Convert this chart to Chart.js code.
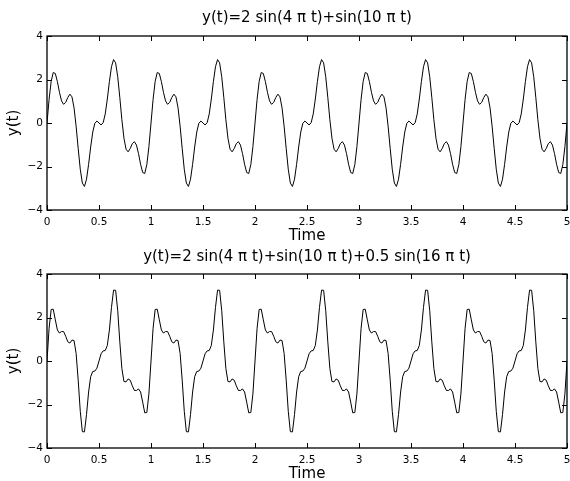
<!DOCTYPE html>
<html><head><meta charset="utf-8">
<script src="https://cdn.jsdelivr.net/npm/chart.js@4.4.1/dist/chart.umd.min.js"></script>
<style>
html,body{margin:0;padding:0;background:#fff;overflow:hidden;width:570px;height:481px;}
canvas{position:absolute;left:0;}
#c1{top:0;}
#c2{top:246px;}
</style></head><body>
<canvas id="c1" width="570" height="247"></canvas>
<canvas id="c2" width="570" height="240"></canvas>
<script>
const time = [
0,0.02,0.04,0.06,0.08,0.1,0.12,0.14,0.16,0.18,0.2,0.22,0.24,0.26,0.28,0.3,0.32,0.34,0.36,0.38,0.4,0.42,0.44,0.46,0.48,
0.5,0.52,0.54,0.56,0.58,0.6,0.62,0.64,0.66,0.68,0.7,0.72,0.74,0.76,0.78,0.8,0.82,0.84,0.86,0.88,0.9,0.92,0.94,0.96,0.98,
1,1.02,1.04,1.06,1.08,1.1,1.12,1.14,1.16,1.18,1.2,1.22,1.24,1.26,1.28,1.3,1.32,1.34,1.36,1.38,1.4,1.42,1.44,1.46,1.48,
1.5,1.52,1.54,1.56,1.58,1.6,1.62,1.64,1.66,1.68,1.7,1.72,1.74,1.76,1.78,1.8,1.82,1.84,1.86,1.88,1.9,1.92,1.94,1.96,1.98,
2,2.02,2.04,2.06,2.08,2.1,2.12,2.14,2.16,2.18,2.2,2.22,2.24,2.26,2.28,2.3,2.32,2.34,2.36,2.38,2.4,2.42,2.44,2.46,2.48,
2.5,2.52,2.54,2.56,2.58,2.6,2.62,2.64,2.66,2.68,2.7,2.72,2.74,2.76,2.78,2.8,2.82,2.84,2.86,2.88,2.9,2.92,2.94,2.96,2.98,
3,3.02,3.04,3.06,3.08,3.1,3.12,3.14,3.16,3.18,3.2,3.22,3.24,3.26,3.28,3.3,3.32,3.34,3.36,3.38,3.4,3.42,3.44,3.46,3.48,
3.5,3.52,3.54,3.56,3.58,3.6,3.62,3.64,3.66,3.68,3.7,3.72,3.74,3.76,3.78,3.8,3.82,3.84,3.86,3.88,3.9,3.92,3.94,3.96,3.98,
4,4.02,4.04,4.06,4.08,4.1,4.12,4.14,4.16,4.18,4.2,4.22,4.24,4.26,4.28,4.3,4.32,4.34,4.36,4.38,4.4,4.42,4.44,4.46,4.48,
4.5,4.52,4.54,4.56,4.58,4.6,4.62,4.64,4.66,4.68,4.7,4.72,4.74,4.76,4.78,4.8,4.82,4.84,4.86,4.88,4.9,4.92,4.94,4.96,4.98,
5];

const ySeries1 = [
0,1.085,1.915,2.32,2.276,1.902,1.408,1.014,0.859,0.953,1.176,1.324,1.202,0.701,-0.148,-1.176,-2.129,-2.761,-2.916,-2.584,-1.902,-1.101,-0.418,-0.013,0.09,
0,-0.09,0.013,0.418,1.101,1.902,2.584,2.916,2.761,2.129,1.176,0.148,-0.701,-1.202,-1.324,-1.176,-0.953,-0.859,-1.014,-1.408,-1.902,-2.276,-2.32,-1.915,-1.085,
0,1.085,1.915,2.32,2.276,1.902,1.408,1.014,0.859,0.953,1.176,1.324,1.202,0.701,-0.148,-1.176,-2.129,-2.761,-2.916,-2.584,-1.902,-1.101,-0.418,-0.013,0.09,
0,-0.09,0.013,0.418,1.101,1.902,2.584,2.916,2.761,2.129,1.176,0.148,-0.701,-1.202,-1.324,-1.176,-0.953,-0.859,-1.014,-1.408,-1.902,-2.276,-2.32,-1.915,-1.085,
0,1.085,1.915,2.32,2.276,1.902,1.408,1.014,0.859,0.953,1.176,1.324,1.202,0.701,-0.148,-1.176,-2.129,-2.761,-2.916,-2.584,-1.902,-1.101,-0.418,-0.013,0.09,
0,-0.09,0.013,0.418,1.101,1.902,2.584,2.916,2.761,2.129,1.176,0.148,-0.701,-1.202,-1.324,-1.176,-0.953,-0.859,-1.014,-1.408,-1.902,-2.276,-2.32,-1.915,-1.085,
0,1.085,1.915,2.32,2.276,1.902,1.408,1.014,0.859,0.953,1.176,1.324,1.202,0.701,-0.148,-1.176,-2.129,-2.761,-2.916,-2.584,-1.902,-1.101,-0.418,-0.013,0.09,
0,-0.09,0.013,0.418,1.101,1.902,2.584,2.916,2.761,2.129,1.176,0.148,-0.701,-1.202,-1.324,-1.176,-0.953,-0.859,-1.014,-1.408,-1.902,-2.276,-2.32,-1.915,-1.085,
0,1.085,1.915,2.32,2.276,1.902,1.408,1.014,0.859,0.953,1.176,1.324,1.202,0.701,-0.148,-1.176,-2.129,-2.761,-2.916,-2.584,-1.902,-1.101,-0.418,-0.013,0.09,
0,-0.09,0.013,0.418,1.101,1.902,2.584,2.916,2.761,2.129,1.176,0.148,-0.701,-1.202,-1.324,-1.176,-0.953,-0.859,-1.014,-1.408,-1.902,-2.276,-2.32,-1.915,-1.085,
0];

const ySeries2 = [
0,1.507,2.367,2.383,1.891,1.426,1.284,1.356,1.35,1.137,0.882,0.825,0.961,0.942,0.351,-0.882,-2.313,-3.252,-3.258,-2.46,-1.426,-0.716,-0.481,-0.465,-0.332,
0,0.332,0.465,0.481,0.716,1.426,2.46,3.258,3.252,2.313,0.882,-0.351,-0.942,-0.961,-0.825,-0.882,-1.137,-1.35,-1.356,-1.284,-1.426,-1.891,-2.383,-2.367,-1.507,
0,1.507,2.367,2.383,1.891,1.426,1.284,1.356,1.35,1.137,0.882,0.825,0.961,0.942,0.351,-0.882,-2.313,-3.252,-3.258,-2.46,-1.426,-0.716,-0.481,-0.465,-0.332,
0,0.332,0.465,0.481,0.716,1.426,2.46,3.258,3.252,2.313,0.882,-0.351,-0.942,-0.961,-0.825,-0.882,-1.137,-1.35,-1.356,-1.284,-1.426,-1.891,-2.383,-2.367,-1.507,
0,1.507,2.367,2.383,1.891,1.426,1.284,1.356,1.35,1.137,0.882,0.825,0.961,0.942,0.351,-0.882,-2.313,-3.252,-3.258,-2.46,-1.426,-0.716,-0.481,-0.465,-0.332,
0,0.332,0.465,0.481,0.716,1.426,2.46,3.258,3.252,2.313,0.882,-0.351,-0.942,-0.961,-0.825,-0.882,-1.137,-1.35,-1.356,-1.284,-1.426,-1.891,-2.383,-2.367,-1.507,
0,1.507,2.367,2.383,1.891,1.426,1.284,1.356,1.35,1.137,0.882,0.825,0.961,0.942,0.351,-0.882,-2.313,-3.252,-3.258,-2.46,-1.426,-0.716,-0.481,-0.465,-0.332,
0,0.332,0.465,0.481,0.716,1.426,2.46,3.258,3.252,2.313,0.882,-0.351,-0.942,-0.961,-0.825,-0.882,-1.137,-1.35,-1.356,-1.284,-1.426,-1.891,-2.383,-2.367,-1.507,
0,1.507,2.367,2.383,1.891,1.426,1.284,1.356,1.35,1.137,0.882,0.825,0.961,0.942,0.351,-0.882,-2.313,-3.252,-3.258,-2.46,-1.426,-0.716,-0.481,-0.465,-0.332,
0,0.332,0.465,0.481,0.716,1.426,2.46,3.258,3.252,2.313,0.882,-0.351,-0.942,-0.961,-0.825,-0.882,-1.137,-1.35,-1.356,-1.284,-1.426,-1.891,-2.383,-2.367,-1.507,
0];

const xTickLabels = ['0','0.5','1','1.5','2','2.5','3','3.5','4','4.5','5'];
const yTickLabels = ['\u22124','\u22122','0','2','4'];
const title1 = 'y(t)=2 sin(4 \u03c0 t)+sin(10 \u03c0 t)';
const title2 = 'y(t)=2 sin(4 \u03c0 t)+sin(10 \u03c0 t)+0.5 sin(16 \u03c0 t)';
const xLabel = 'Time';
const yLabel = 'y(t)';

const FONT = '"DejaVu Sans", sans-serif';
Chart.defaults.font.family = FONT;
Chart.defaults.color = '#000';

const boxPlugin = {
  id: 'matlabBox',
  afterDraw(chart) {
    const ctx = chart.ctx;
    const {left, right, top, bottom} = chart.chartArea;
    const xs = chart.scales.x, ys = chart.scales.y;
    const L = 5;
    ctx.save();
    ctx.strokeStyle = '#000';
    ctx.lineWidth = 1.3;
    ctx.strokeRect(left, top, right - left, bottom - top);
    ctx.lineWidth = 1;
    ctx.beginPath();
    xs.ticks.forEach(t => {
      const px = Math.round(xs.getPixelForValue(t.value)) + 0.5;
      ctx.moveTo(px, bottom); ctx.lineTo(px, bottom - L);
      ctx.moveTo(px, top); ctx.lineTo(px, top + L);
    });
    ys.ticks.forEach(t => {
      const py = Math.round(ys.getPixelForValue(t.value)) + 0.5;
      ctx.moveTo(left, py); ctx.lineTo(left + L, py);
      ctx.moveTo(right, py); ctx.lineTo(right - L, py);
    });
    ctx.stroke();
    ctx.restore();
  }
};

function makeChart(id, values, titleText, titlePad, xAxisHeight, timePad) {
  const pts = time.map((t, i) => ({x: t, y: values[i]}));
  return new Chart(document.getElementById(id), {
    type: 'line',
    data: {datasets: [{data: pts, borderColor: '#000', borderWidth: 1, pointRadius: 0, tension: 0, fill: false}]},
    options: {
      responsive: false, animation: false, devicePixelRatio: 1,
      layout: {padding: {left: 0, right: 3, top: 0, bottom: 0}},
      plugins: {
        legend: {display: false}, tooltip: {enabled: false},
        title: {display: true, fullSize: false, text: titleText, color: '#000', font: {family: FONT, size: 15, weight: 'normal'}, padding: titlePad}
      },
      scales: {
        x: {
          type: 'linear', min: 0, max: 5,
          grid: {display: false, drawTicks: false}, border: {display: false},
          ticks: {stepSize: 0.5, autoSkip: false, maxRotation: 0, padding: 5.5, color: '#000', font: {family: FONT, size: 10.5},
                  callback: (v, i) => xTickLabels[i]},
          title: {display: true, text: xLabel, color: '#000', font: {family: FONT, size: 15}, padding: {top: 0, bottom: timePad}},
          afterFit(s) { s.height = xAxisHeight; s.paddingRight = 3; s.paddingLeft = 0; }
        },
        y: {
          min: -4, max: 4,
          grid: {display: false, drawTicks: false}, border: {display: false},
          ticks: {stepSize: 2, padding: 4, color: '#000', font: {family: FONT, size: 10.5},
                  callback: (v, i) => yTickLabels[i]},
          title: {display: true, text: yLabel, color: '#000', font: {family: FONT, size: 15}, padding: {top: 5, bottom: 0}},
          afterFit(s) { s.width = 47; }
        }
      }
    },
    plugins: [boxPlugin]
  });
}

makeChart('c1', ySeries1, title1, {top: 9, bottom: 9}, 37, 2);
makeChart('c2', ySeries2, title2, {top: 2.5, bottom: 7.5}, 38, 2.5);
</script>
</body></html>
